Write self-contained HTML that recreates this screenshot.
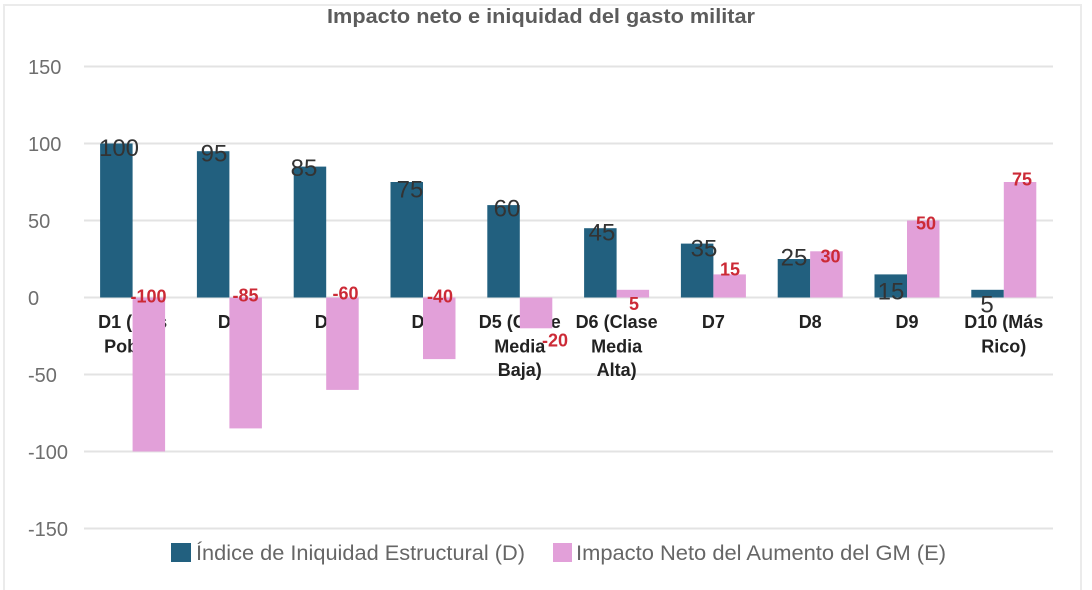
<!DOCTYPE html>
<html>
<head>
<meta charset="utf-8">
<style>
  html, body { margin:0; padding:0; background:#ffffff; }
  body { width:1092px; height:590px; overflow:hidden; }
  svg { display:block; }
  text { font-family: "Liberation Sans", Arial, sans-serif; }
</style>
</head>
<body>
<svg width="1092" height="590" viewBox="0 0 1092 590" xmlns="http://www.w3.org/2000/svg">
  <!-- frame -->
  <rect x="4" y="5" width="1077" height="600" fill="#ffffff" stroke="#ebebeb" stroke-width="2"/>

  <!-- title -->
  <text x="541" y="23" text-anchor="middle" font-size="20" font-weight="bold" fill="#5c5c5c" textLength="428" lengthAdjust="spacingAndGlyphs">Impacto neto e iniquidad del gasto militar</text>

  <!-- gridlines -->
  <g stroke="#e3e3e3" stroke-width="2">
    <line x1="84" y1="66.5" x2="1053" y2="66.5"/>
    <line x1="84" y1="143.5" x2="1053" y2="143.5"/>
    <line x1="84" y1="220.5" x2="1053" y2="220.5"/>
    <line x1="84" y1="297.5" x2="1053" y2="297.5"/>
    <line x1="84" y1="374.5" x2="1053" y2="374.5"/>
    <line x1="84" y1="451.5" x2="1053" y2="451.5"/>
    <line x1="84" y1="528.5" x2="1053" y2="528.5"/>
  </g>

  <!-- y-axis labels -->
  <g font-size="20" fill="#6e6e6e">
    <text x="28" y="74">150</text>
    <text x="28" y="151">100</text>
    <text x="28" y="228">50</text>
    <text x="28" y="305">0</text>
    <text x="28" y="382">-50</text>
    <text x="28" y="459">-100</text>
    <text x="28" y="536">-150</text>
  </g>

  <!-- category labels (drawn beneath bars) -->
  <g font-size="18" font-weight="bold" fill="#222222" text-anchor="middle">
    <text x="132.6" y="328">D1 (Más</text>
    <text x="132.6" y="352.5">Pobre)</text>
    <text x="229.4" y="328">D2</text>
    <text x="326.2" y="328">D3</text>
    <text x="423" y="328">D4</text>
    <text x="519.8" y="328">D5 (Clase</text>
    <text x="519.8" y="352.5">Media</text>
    <text x="519.8" y="376">Baja)</text>
    <text x="616.6" y="328">D6 (Clase</text>
    <text x="616.6" y="352.5">Media</text>
    <text x="616.6" y="376">Alta)</text>
    <text x="713.4" y="328">D7</text>
    <text x="810.2" y="328">D8</text>
    <text x="907" y="328">D9</text>
    <text x="1003.8" y="328">D10 (Más</text>
    <text x="1003.8" y="352.5">Rico)</text>
  </g>

  <!-- blue bars (D) -->
  <g fill="#22607f">
    <rect x="100.1" y="143.5" width="32.5" height="154"/>
    <rect x="196.9" y="151.2" width="32.5" height="146.3"/>
    <rect x="293.7" y="166.6" width="32.5" height="130.9"/>
    <rect x="390.5" y="182" width="32.5" height="115.5"/>
    <rect x="487.3" y="205.1" width="32.5" height="92.4"/>
    <rect x="584.1" y="228.2" width="32.5" height="69.3"/>
    <rect x="680.9" y="243.6" width="32.5" height="53.9"/>
    <rect x="777.7" y="259" width="32.5" height="38.5"/>
    <rect x="874.5" y="274.4" width="32.5" height="23.1"/>
    <rect x="971.3" y="289.8" width="32.5" height="7.7"/>
  </g>

  <!-- pink bars (E) -->
  <g fill="#e2a0d9">
    <rect x="132.6" y="297.5" width="32.5" height="154"/>
    <rect x="229.4" y="297.5" width="32.5" height="130.9"/>
    <rect x="326.2" y="297.5" width="32.5" height="92.4"/>
    <rect x="423" y="297.5" width="32.5" height="61.6"/>
    <rect x="519.8" y="297.5" width="32.5" height="30.8"/>
    <rect x="616.6" y="289.8" width="32.5" height="7.7"/>
    <rect x="713.4" y="274.4" width="32.5" height="23.1"/>
    <rect x="810.2" y="251.3" width="32.5" height="46.2"/>
    <rect x="907" y="220.5" width="32.5" height="77"/>
    <rect x="1003.8" y="182" width="32.5" height="115.5"/>
  </g>

  <!-- blue value labels -->
  <g font-size="24" fill="#333333" text-anchor="middle">
    <text x="119" y="156">100</text>
    <text x="214" y="161.5">95</text>
    <text x="304" y="176">85</text>
    <text x="410" y="197.5">75</text>
    <text x="507" y="216.5">60</text>
    <text x="602" y="240.5">45</text>
    <text x="704" y="256.5">35</text>
    <text x="794" y="265.5">25</text>
    <text x="891" y="299.5">15</text>
    <text x="987" y="312.5">5</text>
  </g>

  <!-- pink value labels -->
  <g font-size="18" font-weight="bold" fill="#cc2a36" text-anchor="middle">
    <text x="148.5" y="302.5">-100</text>
    <text x="245.5" y="301.5">-85</text>
    <text x="345.5" y="299.5">-60</text>
    <text x="440" y="302.5">-40</text>
    <text x="555" y="346.5">-20</text>
    <text x="634" y="310">5</text>
    <text x="730" y="275.5">15</text>
    <text x="830.5" y="262.5">30</text>
    <text x="926" y="229.5">50</text>
    <text x="1022" y="185.5">75</text>
  </g>

  <!-- legend -->
  <rect x="171" y="543" width="20" height="19" fill="#22607f"/>
  <text x="196" y="560" font-size="21" fill="#666666" textLength="329" lengthAdjust="spacingAndGlyphs">Índice de Iniquidad Estructural (D)</text>
  <rect x="553" y="543" width="19" height="19" fill="#e2a0d9"/>
  <text x="576" y="560" font-size="21" fill="#666666" textLength="370" lengthAdjust="spacingAndGlyphs">Impacto Neto del Aumento del GM (E)</text>
</svg>
</body>
</html>
